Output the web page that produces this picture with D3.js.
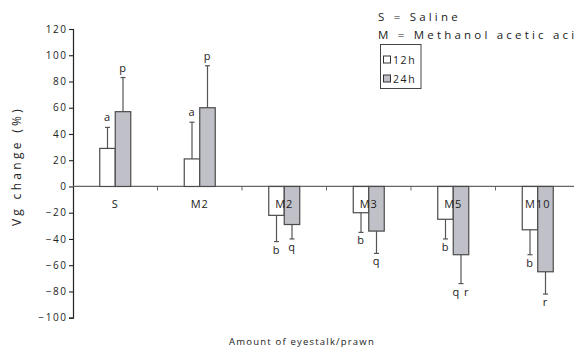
<!DOCTYPE html>
<html>
<head>
<meta charset="utf-8">
<script src="https://cdn.jsdelivr.net/npm/d3@7"></script>
<style>
  body { margin: 0; background: #fff; }
  svg { display: block; }
  text { font-family: "Open Sans", "DejaVu Sans", sans-serif; fill: #222; }
</style>
</head>
<body>
<svg id="chart" width="574" height="350"></svg>
<script>
// Treatment groups along the x axis
const groups = ["S", "M2", "M2", "M3", "M5", "M10"];
// Mean Vg change (%) at 12 h and 24 h
const values12 = [29, 21, -22, -20, -25, -33];
const values24 = [57, 60, -29, -34, -52, -65];
// Error bar lengths (same sign as the mean)
const err12 = [16, 28, 20, 15, 15, 19];
const err24 = [26, 32, 11, 17, 22, 17];
// Significance letters
const letters12 = ["a", "a", "b", "b", "b", "b"];
const letters24 = ["p", "p", "q", "q", "q r", "r"];
const yTicks = [120, 100, 80, 60, 40, 20, 0, -20, -40, -60, -80, -100];

const svg = d3.select("#chart");
const fill24 = "#c0c1c8";
const stroke = "#4a4a4a";

const x = d3.scaleBand().domain(d3.range(groups.length)).range([73, 580]).padding(0);
const y = d3.scaleLinear().domain([-100, 120]).range([317.7, 29]);
const barW = 15.5;

// Y axis
const yAxis = svg.append("g").attr("transform", "translate(73,0)")
  .call(d3.axisLeft(y).tickValues(yTicks).tickSize(4).tickPadding(3).tickFormat(d3.format("d")));
yAxis.select(".domain").attr("stroke", "#222").attr("stroke-width", 1.2);
yAxis.selectAll(".tick line").attr("stroke", "#222").attr("stroke-width", 1.1);
yAxis.selectAll(".tick text").attr("font-size", 10).attr("letter-spacing", "1.6px").attr("dx", 1.6)
  .attr("font-family", "'Open Sans', sans-serif").attr("fill", "#222");

// X baseline with ticks at group boundaries
svg.append("line").attr("x1", 73).attr("x2", 580).attr("y1", y(0)).attr("y2", y(0))
  .attr("stroke", "#666").attr("stroke-width", 1.2);
svg.selectAll(".xtick").data(d3.range(1, groups.length)).join("line")
  .attr("x1", i => x(i)).attr("x2", i => x(i))
  .attr("y1", y(0)).attr("y2", y(0) + 4)
  .attr("stroke", "#666").attr("stroke-width", 1);

function drawSeries(vals, errs, lets, offset, fill) {
  const g = svg.append("g");
  const cx = i => x(i) + x.bandwidth() / 2 + offset;
  const tip = (d, i) => y(d + (d >= 0 ? errs[i] : -errs[i]));
  // error bars drawn first so bars cover the stem
  g.selectAll("line.stem").data(vals).join("line")
    .attr("x1", (d, i) => cx(i) + barW / 2).attr("x2", (d, i) => cx(i) + barW / 2)
    .attr("y1", d => y(d)).attr("y2", tip)
    .attr("stroke", "#555").attr("stroke-width", 1.2);
  g.selectAll("line.cap").data(vals).join("line")
    .attr("x1", (d, i) => cx(i) + barW / 2 - 2.5).attr("x2", (d, i) => cx(i) + barW / 2 + 2.5)
    .attr("y1", tip).attr("y2", tip)
    .attr("stroke", "#555").attr("stroke-width", 1.2);
  g.selectAll("rect").data(vals).join("rect")
    .attr("x", (d, i) => cx(i)).attr("width", barW)
    .attr("y", d => Math.min(y(d), y(0))).attr("height", d => Math.abs(y(d) - y(0)))
    .attr("fill", fill).attr("stroke", stroke).attr("stroke-width", 1.2);
  g.selectAll("text").data(vals).join("text")
    .attr("x", (d, i) => cx(i) + barW / 2)
    .attr("y", (d, i) => d >= 0 ? tip(d, i) - 6 : tip(d, i) + 12)
    .attr("text-anchor", "middle").attr("font-size", 11).attr("letter-spacing", "1px")
    .attr("fill", "#222")
    .text((d, i) => lets[i]);
}
drawSeries(values12, err12, letters12, -barW, "#fff");
drawSeries(values24, err24, letters24, 0, fill24);

// Group labels just below the baseline
svg.selectAll(".glabel").data(groups).join("text")
  .attr("x", (d, i) => x(i) + x.bandwidth() / 2)
  .attr("y", y(0) + 22)
  .attr("text-anchor", "middle").attr("font-size", 11).attr("letter-spacing", "1px")
  .text(d => d);

// Axis titles
svg.append("text").attr("transform", "translate(21,166) rotate(-90)")
  .attr("text-anchor", "middle").attr("font-size", 12).attr("letter-spacing", "3.3px")
  .text("Vg change (%)");
svg.append("text").attr("x", 302).attr("y", 345)
  .attr("text-anchor", "middle").attr("font-size", 9.5).attr("letter-spacing", "1.2px")
  .text("Amount of eyestalk/prawn");

// Abbreviation notes
svg.append("text").attr("x", 378).attr("y", 21).attr("font-size", 11.5).attr("letter-spacing", "3.2px")
  .text("S = Saline");
svg.append("text").attr("x", 378).attr("y", 39).attr("font-size", 11.5).attr("letter-spacing", "3.2px")
  .text("M = Methanol acetic acid");

// Legend
const lg = svg.append("g");
lg.append("rect").attr("x", 380.5).attr("y", 44.5).attr("width", 40.5).attr("height", 44)
  .attr("fill", "#fff").attr("stroke", "#444").attr("stroke-width", 1);
const legendItems = [{ label: "12h", fill: "#fff" }, { label: "24h", fill: fill24 }];
legendItems.forEach((it, i) => {
  const yy = 56 + i * 19;
  lg.append("rect").attr("x", 383.5).attr("y", yy).attr("width", 7).attr("height", 7)
    .attr("fill", it.fill).attr("stroke", "#333").attr("stroke-width", 1);
  lg.append("text").attr("x", 393).attr("y", yy + 7.5).attr("font-size", 10.5)
    .attr("letter-spacing", "1.6px").text(it.label);
});
</script>
</body>
</html>
